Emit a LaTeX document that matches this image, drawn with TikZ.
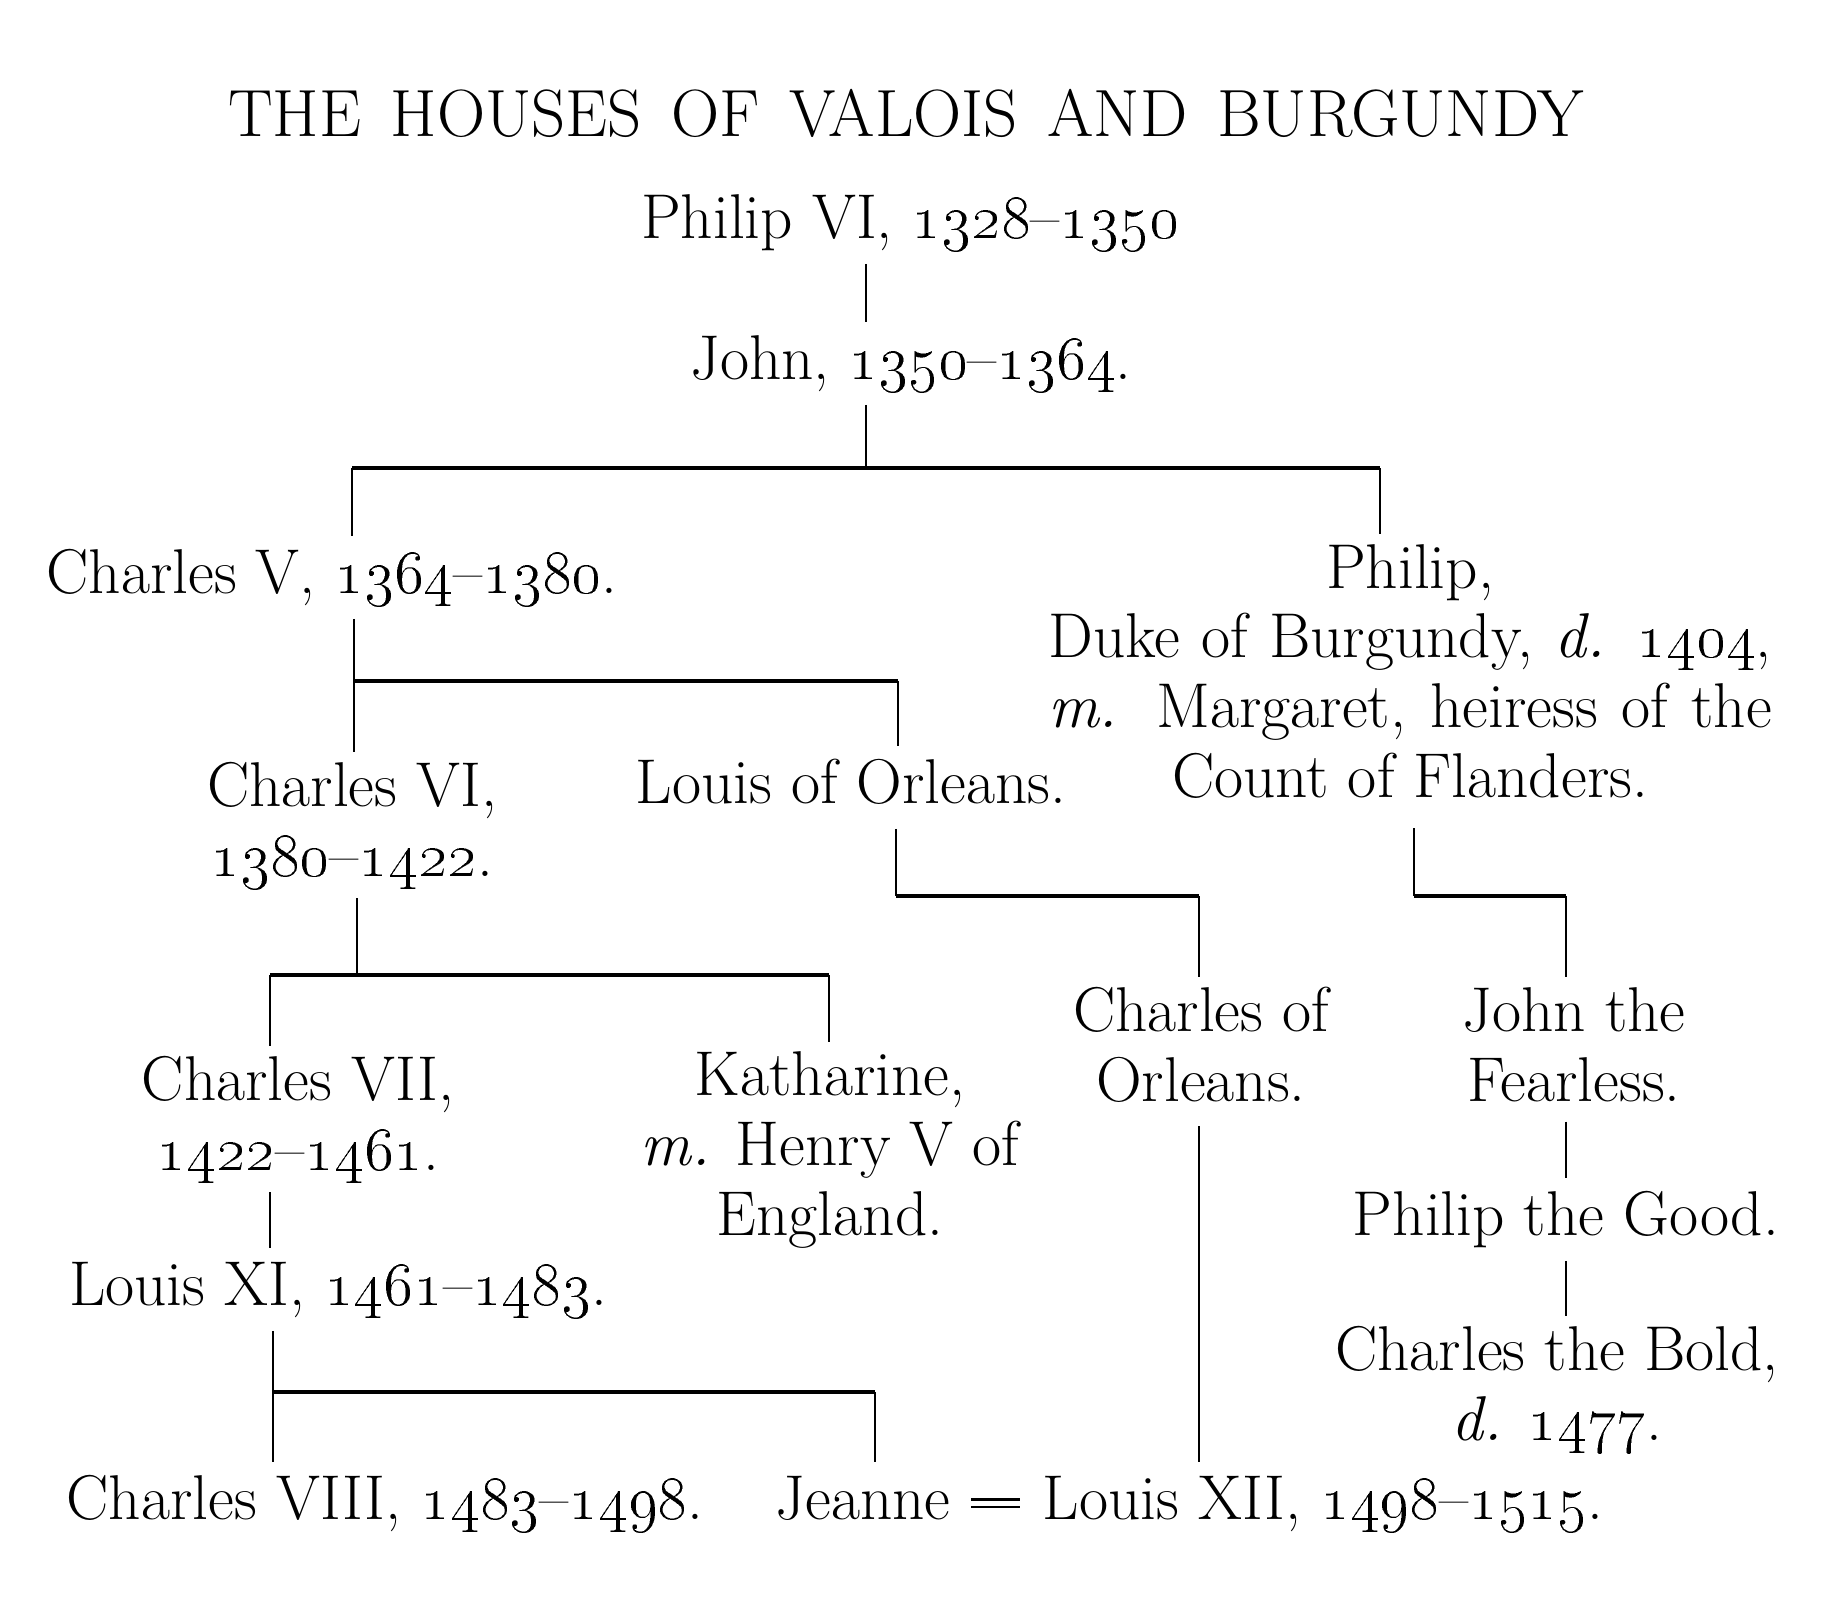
\documentclass[tikz,border=0pt]{standalone}
\usepackage{fix-cm}
\usepackage{xcolor}
\usepackage{tikz}
\usetikzlibrary{positioning}
\newcommand{\yrs}[2]{\oldstylenums{#1}--\oldstylenums{#2}}

\begin{document}
\begin{tikzpicture}[x=0.01cm, y=-0.01cm, font=\fontsize{18}{19.8}\selectfont]
\tikzstyle{person} = [inner sep=0pt, outer ysep=0.1cm, anchor=base, text height=13.5pt, text depth=4.5pt]
\tikzstyle{family} = [inner sep=0pt, outer ysep=0.1cm, anchor=base, align=center]
\tikzstyle{line} = [line width=0.7pt]
\tikzstyle{bar} = [line width=1.2pt]

\useasboundingbox [fill=white] (0,0) rectangle (1822,1620);

\node (title) at (906,136) [person] {\fontsize{19}{20}\selectfont\makebox[13.55cm][s]{THE HOUSES OF VALOIS AND BURGUNDY}};
\node (philip6) at (910,238) [person] {Philip VI, \yrs{1328}{1350}};
\node (john) at (911,379) [person] {John, \yrs{1350}{1364}.};
\node (charles5) at (332,593) [person] {Charles V, \yrs{1364}{1380}.};
\node (burgundy) at (1410,797) [family] {Philip,\\ \makebox[7.23cm][s]{Duke of Burgundy, \textit{d.} \oldstylenums{1404},}\\ \makebox[7.23cm][s]{\textit{m.} Margaret, heiress of the}\\ Count of Flanders.};
\node (charles6) at (352,876) [family] {Charles VI,\\ \yrs{1380}{1422}.};
\node (louisO) at (851,803) [person] {Louis of Orleans.};
\node (charlesO) at (1201,1101) [family] {Charles of\\ Orleans.};
\node (johnF) at (1574,1101) [family] {John the\\ Fearless.};
\node (charles7) at (298,1170) [family] {Charles VII,\\ \yrs{1422}{1461}.};
\node (katharine) at (830,1235) [family] {Katharine,\\ \textit{m.} Henry V of\\ England.};
\node (philipG) at (1566,1235) [person] {Philip the Good.};
\node (louis11) at (338,1305) [person] {Louis XI, \yrs{1461}{1483}.};
\node (charlesB) at (1557,1440) [family] {Charles the Bold,\\ \textit{d.} \oldstylenums{1477}.};
\node (charles8) at (385,1519) [person] {Charles VIII, \yrs{1483}{1498}.};
\node (jeanne) at (863,1519) [person] {Jeanne};
\node (louis12) at (1323,1519) [person] {Louis XII, \yrs{1498}{1515}.};

\coordinate (j1) at (866,468);
\coordinate (b1l) at (352,468);
\coordinate (b1r) at (1380,468);
\coordinate (j2) at (354,681);
\coordinate (b2r) at (898,681);
\coordinate (b3l) at (896,896);
\coordinate (b3r) at (1199,896);
\coordinate (b4l) at (1414,896);
\coordinate (b4r) at (1566,896);
\coordinate (j5) at (357,975);
\coordinate (b5l) at (270,975);
\coordinate (b5r) at (829,975);
\coordinate (b6l) at (273,1392);
\coordinate (b6r) at (875,1392);

\draw [line] (philip6.south -| j1) -- (john.north -| j1);
\draw [line] (john.south -| j1) -- (j1);
\draw [bar] (b1l) -- (b1r);
\draw [line] (b1l) -- (charles5.north -| b1l);
\draw [line] (b1r) -- (burgundy.north -| b1r);
\draw [line] (charles5.south -| j2) -- (j2);
\draw [bar] (j2) -- (b2r);
\draw [line] (j2) -- (charles6.north -| j2);
\draw [line] (b2r) -- (louisO.north -| b2r);
\draw [line] (louisO.south -| b3l) -- (b3l);
\draw [bar] (b3l) -- (b3r);
\draw [line] (b3r) -- (charlesO.north -| b3r);
\draw [line, shorten <=0.2cm] (burgundy.south -| b4l) -- (b4l);
\draw [bar] (b4l) -- (b4r);
\draw [line] (b4r) -- (johnF.north -| b4r);
\draw [line] (charles6.south -| j5) -- (j5);
\draw [bar] (b5l) -- (b5r);
\draw [line] (b5l) -- (charles7.north -| b5l);
\draw [line] (b5r) -- (katharine.north -| b5r);
\draw [line] (charles7.south -| b5l) -- (louis11.north -| b5l);
\draw [line] (louis11.south -| b6l) -- (b6l);
\draw [bar] (b6l) -- (b6r);
\draw [line] (b6l) -- (charles8.north -| b6l);
\draw [line] (b6r) -- (jeanne.north -| b6r);
\draw [line, shorten <=0.14cm] (charlesO.south -| b3r) -- (louis12.north -| b3r);
\draw [line, shorten <=0.1cm] (johnF.south -| b4r) -- (philipG.north -| b4r);
\draw [line] (philipG.south -| b4r) -- (charlesB.north -| b4r);
\draw [line width=0.6pt, double, double distance=1.5pt, shorten <=0.2cm, shorten >=0.22cm] (jeanne) -- (louis12);

\end{tikzpicture}
\end{document}
